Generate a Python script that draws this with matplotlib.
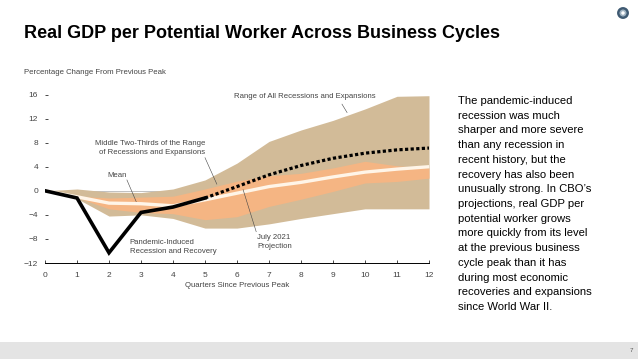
import matplotlib
matplotlib.use('Agg')
import matplotlib.pyplot as plt
from matplotlib.patches import Rectangle, Circle

plt.rcParams['font.family'] = ['Liberation Sans', 'DejaVu Sans']

quarters = [0, 1, 2, 3, 4, 5, 6, 7, 8, 9, 10, 11, 12]
range_upper = [0, 0.3, -0.2, -0.3, 0.3, 1.8, 4.6, 8.2, 10.1, 11.7, 13.6, 15.7, 15.8]
range_lower = [0, -1.3, -4.2, -4.0, -4.6, -6.2, -6.2, -5.5, -4.6, -3.8, -3.0, -3.0, -3.0]
middle_upper = [0, -0.9, -1.2, -1.05, -0.9, 0.3, 1.6, 2.5, 2.9, 3.8, 4.9, 4.15, 3.8]
middle_lower = [0, -1.1, -3.0, -3.6, -3.8, -4.8, -4.3, -2.6, -1.4, -0.1, 1.3, 1.55, 2.1]
mean_line = [0, -1.0, -2.05, -2.15, -2.5, -1.5, -0.4, 0.7, 1.4, 2.3, 3.1, 3.6, 4.0]

actual_q = [0, 1, 2, 3, 4, 5]
actual = [0, -1.2, -10.3, -3.6, -2.7, -1.2]
proj_q = [5, 6, 7, 8, 9, 10, 11, 12]
projection = [-1.2, 0.7, 2.65, 4.2, 5.4, 6.25, 6.8, 7.1]

y_ticks = [-12, -8, -4, 0, 4, 8, 12, 16]
y_labels = ['\u221212', '\u22128', '\u22124', '0', '4', '8', '12', '16']

body_lines = [
    'The pandemic-induced', 'recession was much', 'sharper and more severe',
    'than any recession in', 'recent history, but the', 'recovery has also been',
    'unusually strong. In CBO\u2019s', 'projections, real GDP per', 'potential worker grows',
    'more quickly from its level', 'at the previous business', 'cycle peak than it has',
    'during most economic', 'recoveries and expansions', 'since World War II.',
]

W, H = 638, 359
fig = plt.figure(figsize=(W / 100, H / 100), dpi=100, facecolor='white')


def fx(px):
    return px / W


def fy(py):
    return 1 - py / H


# footer band and logo
fig.add_artist(Rectangle((0, 0), 1, fy(342), transform=fig.transFigure, color='#e4e4e4', lw=0))
fig.text(fx(631), fy(351), '7', fontsize=4.5, color='#555555', ha='center', va='center')

logo = fig.add_axes([fx(616), fy(20), 14 / W, 14 / H])
logo.set_xlim(-1, 1)
logo.set_ylim(-1, 1)
logo.axis('off')
logo.add_patch(Circle((0, 0), 0.85, color='#3f5a72', lw=0))
logo.add_patch(Circle((0, 0), 0.5, color='#9fb2c0', lw=0))
logo.add_patch(Circle((0, 0), 0.25, color='white', lw=0))

fig.text(fx(24), fy(33.5), 'Real GDP per Potential Worker Across Business Cycles',
         fontsize=13.0, fontweight='bold', color='black', va='center')
fig.text(fx(24), fy(72), 'Percentage Change From Previous Peak',
         fontsize=5.6, color='#444444', va='center')

for i, line in enumerate(body_lines):
    fig.text(fx(458), fy(101 + i * 14.72), line, fontsize=8.1, color='black', va='center')

ax = fig.add_axes([fx(45), fy(263), (429 - 45) / W, (263 - 94.5) / H])
ax.set_xlim(0, 12)
ax.set_ylim(-12, 16)
ax.patch.set_alpha(0)

ax.axhline(0, color='#b5b5b5', lw=0.6, zorder=1)
ax.fill_between(quarters, range_lower, range_upper, color='#d2bb98', lw=0, zorder=2)
ax.fill_between(quarters, middle_lower, middle_upper, color='#f5b583', lw=0, zorder=3)
ax.plot(quarters, mean_line, color='#fff5e8', lw=2.4, zorder=4)
ax.plot(proj_q, projection, color='black', lw=2.3, linestyle=(0, (1, 0.75)), zorder=5)
ax.plot(actual_q, actual, color='black', lw=2.6, zorder=6, solid_joinstyle='miter')

for s in ['top', 'right', 'left']:
    ax.spines[s].set_visible(False)
ax.spines['bottom'].set_linewidth(0.7)
ax.set_xticks(quarters)
ax.set_yticks(y_ticks)
ax.set_yticklabels(y_labels)
ax.tick_params(axis='x', direction='in', length=2.5, width=0.5, labelsize=6,
               labelcolor='#444444', pad=6.5)
ax.tick_params(axis='y', direction='in', length=2.5, width=0.5, labelsize=6,
               labelcolor='#444444', pad=5)
ax.set_xlabel('Quarters Since Previous Peak', fontsize=5.6, color='#444444', labelpad=1.8)

label_style = dict(fontsize=5.6, color='#444444', zorder=8)
leader = dict(color='#444444', lw=0.4, zorder=8)

ax.text(8.125, 15.6, 'Range of All Recessions and Expansions', ha='center', va='center',
        **label_style)
ax.plot([9.28, 9.44], [14.4, 13.0], **leader)
ax.text(5.0, 7.1, 'Middle Two-Thirds of the Range\nof Recessions and Expansions',
        ha='right', va='center', multialignment='right', linespacing=1.4, **label_style)
ax.plot([5.0, 5.37], [5.5, 1.1], **leader)
ax.text(2.25, 2.5, 'Mean', ha='center', va='center', **label_style)
ax.plot([2.56, 2.85], [1.8, -1.8], **leader)
ax.text(2.65, -9.3, 'Pandemic-Induced\nRecession and Recovery', ha='left', va='center',
        linespacing=1.3, **label_style)
ax.text(6.63, -8.5, 'July 2021\nProjection', ha='left', va='center', linespacing=1.4,
        **label_style)
ax.plot([6.19, 6.6], [0.2, -6.8], **leader)

fig.savefig('out.png', dpi=100)
